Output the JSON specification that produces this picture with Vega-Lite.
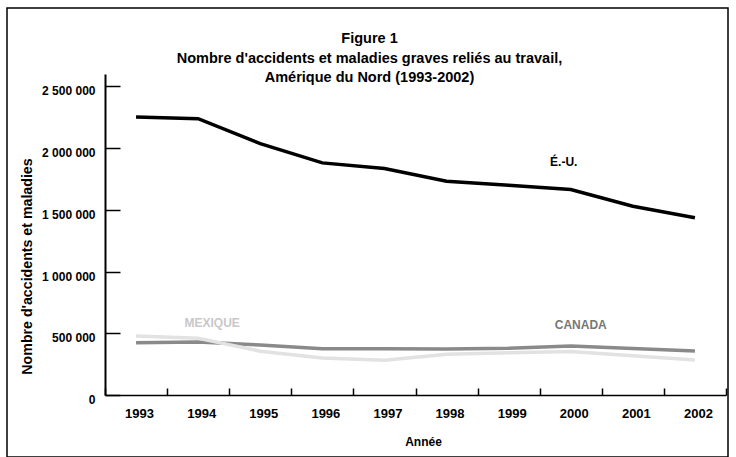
{
  "$schema": "https://vega.github.io/schema/vega-lite/v6.json",
  "width": 721,
  "height": 449,
  "autosize": {"type": "none"},
  "padding": {"left": 7, "top": 8, "right": 8, "bottom": 0},
  "background": "white",
  "config": {
    "locale": {"number": {"decimal": ",", "thousands": " ", "grouping": [3], "currency": ["", ""]}},
    "view": {"stroke": "black", "strokeWidth": 1.5},
    "font": "Liberation Sans",
    "axis": {"grid": false}
  },
  "title": {
    "text": "Figure 1",
    "subtitle": ["Nombre d'accidents et maladies graves reliés au travail,", "Amérique du Nord (1993-2002)"],
    "anchor": "middle",
    "frame": "group",
    "offset": -77,
    "dx": 2,
    "font": "Liberation Sans",
    "fontSize": 14.5,
    "fontWeight": "bold",
    "color": "black",
    "subtitleFont": "Liberation Sans",
    "subtitleFontSize": 14.5,
    "subtitleFontWeight": "bold",
    "subtitleColor": "black",
    "subtitlePadding": 5,
    "subtitleLineHeight": 19
  },
  "datasets": {
    "series": [
      {"country": "É.-U.", "year": 1993, "value": 2252000},
      {"country": "É.-U.", "year": 1994, "value": 2238000},
      {"country": "É.-U.", "year": 1995, "value": 2036000},
      {"country": "É.-U.", "year": 1996, "value": 1880000},
      {"country": "É.-U.", "year": 1997, "value": 1834000},
      {"country": "É.-U.", "year": 1998, "value": 1731000},
      {"country": "É.-U.", "year": 1999, "value": 1699000},
      {"country": "É.-U.", "year": 2000, "value": 1664000},
      {"country": "É.-U.", "year": 2001, "value": 1529000},
      {"country": "É.-U.", "year": 2002, "value": 1435000},
      {"country": "Canada", "year": 1993, "value": 423000},
      {"country": "Canada", "year": 1994, "value": 430000},
      {"country": "Canada", "year": 1995, "value": 405000},
      {"country": "Canada", "year": 1996, "value": 375000},
      {"country": "Canada", "year": 1997, "value": 375000},
      {"country": "Canada", "year": 1998, "value": 373000},
      {"country": "Canada", "year": 1999, "value": 378000},
      {"country": "Canada", "year": 2000, "value": 397000},
      {"country": "Canada", "year": 2001, "value": 377000},
      {"country": "Canada", "year": 2002, "value": 356000},
      {"country": "Mexique", "year": 1993, "value": 477000},
      {"country": "Mexique", "year": 1994, "value": 460000},
      {"country": "Mexique", "year": 1995, "value": 355000},
      {"country": "Mexique", "year": 1996, "value": 300000},
      {"country": "Mexique", "year": 1997, "value": 282000},
      {"country": "Mexique", "year": 1998, "value": 330000},
      {"country": "Mexique", "year": 1999, "value": 343000},
      {"country": "Mexique", "year": 2000, "value": 352000},
      {"country": "Mexique", "year": 2001, "value": 317000},
      {"country": "Mexique", "year": 2002, "value": 284000}
    ]
  },
  "layer": [
    {
      "data": {"name": "series"},
      "mark": {"type": "line", "strokeWidth": 3.5},
      "encoding": {
        "x": {
          "field": "year",
          "type": "ordinal",
          "bandPosition": 0.5,
          "scale": {"type": "band", "range": [98, 719], "paddingInner": 0, "paddingOuter": 0},
          "axis": {
            "orient": "bottom",
            "offset": -62,
            "title": "Année",
            "titleX": 416,
            "labelAngle": 0,
            "tickBand": "extent",
            "tickSize": -7,
            "tickWidth": 1.5,
            "tickColor": "black",
            "domainColor": "black",
            "domainWidth": 1.5,
            "labelFont": "Liberation Sans",
            "labelFontWeight": "bold",
            "labelFontSize": 13,
            "labelColor": "black",
            "labelPadding": 19.5,
            "labelOffset": 3,
            "titleFont": "Liberation Sans",
            "titleFontWeight": "bold",
            "titleFontSize": 12,
            "titleColor": "black",
            "titlePadding": 16
          }
        },
        "y": {
          "field": "value",
          "type": "quantitative",
          "scale": {"domain": [0, 2500000], "range": [387, 66]},
          "axis": {
            "orient": "left",
            "offset": -98,
            "values": [0, 500000, 1000000, 1500000, 2000000, 2500000],
            "format": ",.0f",
            "tickSize": -15,
            "tickWidth": 1.5,
            "tickColor": "black",
            "domainColor": "black",
            "domainWidth": 2,
            "labelFont": "Liberation Sans",
            "labelFontWeight": "bold",
            "labelFontSize": 12,
            "labelColor": "black",
            "labelPadding": 25,
            "labelOffset": 4.5,
            "title": "Nombre d'accidents et maladies",
            "titleFont": "Liberation Sans",
            "titleFontWeight": "bold",
            "titleFontSize": 14.2,
            "titleColor": "black",
            "titlePadding": 7,
            "titleY": 258
          }
        },
        "color": {
          "field": "country",
          "type": "nominal",
          "scale": {"domain": ["É.-U.", "Canada", "Mexique"], "range": ["#000000", "#8a8a8a", "#e2e2e2"]},
          "legend": null
        }
      }
    },
    {
      "data": {"values": [{"label": "É.-U.", "year": 2000, "value": 1890000}]},
      "mark": {"type": "text", "font": "Liberation Sans", "fontWeight": "bold", "fontSize": 12, "color": "black", "dx": -7, "baseline": "middle"},
      "encoding": {
        "x": {"field": "year", "type": "ordinal", "bandPosition": 0.5},
        "y": {"field": "value", "type": "quantitative"},
        "text": {"field": "label"}
      }
    },
    {
      "data": {"values": [{"label": "CANADA", "year": 2000, "value": 568000}]},
      "mark": {"type": "text", "font": "Liberation Sans", "fontWeight": "bold", "fontSize": 12, "color": "#777777", "dx": 10, "baseline": "middle"},
      "encoding": {
        "x": {"field": "year", "type": "ordinal", "bandPosition": 0.5},
        "y": {"field": "value", "type": "quantitative"},
        "text": {"field": "label"}
      }
    },
    {
      "data": {"values": [{"label": "MEXIQUE", "year": 1994, "value": 586000}]},
      "mark": {"type": "text", "font": "Liberation Sans", "fontWeight": "bold", "fontSize": 12, "color": "#c8c8c8", "dx": 14, "baseline": "middle"},
      "encoding": {
        "x": {"field": "year", "type": "ordinal", "bandPosition": 0.5},
        "y": {"field": "value", "type": "quantitative"},
        "text": {"field": "label"}
      }
    }
  ]
}
